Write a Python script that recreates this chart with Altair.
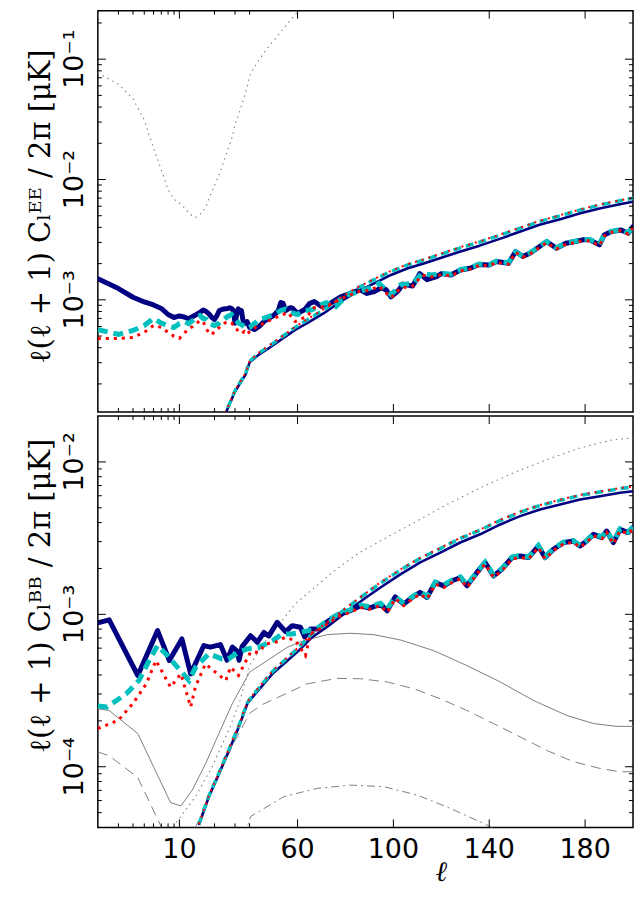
import math
import altair as alt
import pandas as pd

# ---------------- data (ell, value in muK) ----------------
# EE panel
ee_fg_dotted = [(2,0.077),(3,0.0618),(4,0.0469),(5,0.0313),(6,0.0182),(7,0.01205),(8,0.00822),(9,0.00687),
                (10,0.00636),(11,0.00583),(12,0.0053),(13,0.00495),(14,0.00486),(15,0.0051),(16,0.00551),
                (17,0.006),(18,0.00706),(19,0.00793),(20,0.0089),(22,0.01107),(24,0.01406),(26,0.01767),
                (28,0.0216),(30,0.0285),(32,0.0342),(34,0.0409),(36,0.0486),(38,0.0578),(40,0.0726),
                (42,0.0863),(44,0.0987),(46,0.1128),(48,0.1277),(50,0.142),(52,0.159),(54,0.178),(56,0.2),
                (58,0.222),(60,0.247),(62,0.27),(64,0.3)]

ee_navy_thick = [(2,1.50e-3),(3,1.24e-3),(4,1.05e-3),(5,9.6e-4),(6,9.06e-4),(7,8.47e-4),(8,7.55e-4),(9,7.13e-4),
                 (10,7.34e-4),(11,7.2e-4),(12,6.95e-4),(13,7.27e-4),(14,7.55e-4),(15,7.85e-4),(16,8.23e-4),
                 (17,8.0e-4),(18,7.6e-4),(19,7.13e-4),(20,6.87e-4),(21,7.41e-4),(22,8.15e-4),(24,8.4e-4),
                 (26,8.47e-4),(27,8.6e-4),(28,8.47e-4),(29,8.15e-4),(30,6.4e-4),(31,7.55e-4),(32,8.4e-4),
                 (33,8.0e-4),(34,8.15e-4),(35,6.86e-4),(36,6.35e-4),(38,6.6e-4),(40,5.89e-4),(42,5.66e-4),
                 (44,6.0e-4),(46,6.6e-4),(48,7.03e-4),(50,7.4e-4),(52,8.15e-4),(53,9.5e-4),(54,9.33e-4),
                 (55,8.15e-4),(57,8.6e-4),(58,8.47e-4),(60,7.7e-4),(61,7.9e-4),(63,8.3e-4),(65,9.3e-4),
                 (67,9.69e-4),(70,8.8e-4),(74,9.45e-4),(78,1.06e-3),(82,1.13e-3),(86,1.21e-3),(89,1.13e-3),
                 (92,1.17e-3),(95,1.26e-3),(97,1.21e-3),(99,1.06e-3),(102,1.19e-3),(104,1.35e-3),(108,1.3e-3),
                 (111,1.65e-3),(114,1.47e-3),(118,1.56e-3),(120,1.65e-3),(124,1.61e-3),(128,1.77e-3),
                 (132,1.83e-3),(136,1.97e-3),(140,1.95e-3),(143,2.08e-3),(148,2.01e-3),(151,2.52e-3),
                 (154,2.29e-3),(157,2.44e-3),(160,2.68e-3),(164,3.05e-3),(168,2.68e-3),(172,2.95e-3),
                 (176,3.05e-3),(179,3.15e-3),(182,3.15e-3),(186,2.86e-3),(188,3.46e-3),(191,3.69e-3),
                 (195,3.81e-3),(198,3.57e-3),(200,4.06e-3)]

ee_cyan_thick = [(2,5.66e-4),(3,5.15e-4),(4,5.56e-4),(5,6.12e-4),(6,7.0e-4),(7,6.4e-4),(8,6.12e-4),(9,5.89e-4),
                 (10,6.35e-4),(11,6.6e-4),(12,6.35e-4),(13,6.73e-4),(14,7.13e-4),(15,7.4e-4),(16,7.0e-4),
                 (17,6.87e-4),(18,6.35e-4),(19,6.22e-4),(20,6.12e-4),(22,6.4e-4),(24,6.87e-4),(26,7.27e-4),
                 (28,7.55e-4),(30,7.0e-4),(32,6.4e-4),(34,6.22e-4),(36,6.0e-4),(38,5.77e-4),(40,5.89e-4),
                 (42,6.35e-4),(44,6.87e-4),(47,7.13e-4),(50,7.55e-4),(53,8.15e-4),(55,8.4e-4),(57,7.85e-4),
                 (60,7.55e-4),(63,8.15e-4),(66,8.26e-4),(70,9.14e-4),(72,9.45e-4),(76,8.8e-4),(81,1.1e-3),
                 (86,1.17e-3),(90,1.25e-3),(94,1.37e-3),(99,1.1e-3),(103,1.33e-3),(108,1.37e-3),(112,1.66e-3),
                 (116,1.61e-3),(120,1.66e-3),(124,1.63e-3),(128,1.78e-3),(132,1.85e-3),(136,1.98e-3),
                 (140,1.96e-3),(143,2.1e-3),(148,2.03e-3),(151,2.5e-3),(154,2.3e-3),(157,2.46e-3),(160,2.7e-3),
                 (164,3.05e-3),(168,2.7e-3),(172,2.97e-3),(176,3.07e-3),(179,3.17e-3),(182,3.17e-3),
                 (186,2.9e-3),(188,3.48e-3),(191,3.7e-3),(195,3.83e-3),(198,3.6e-3),(200,4.08e-3)]

ee_red_thick = [(2,4.78e-4),(3,4.78e-4),(4,4.87e-4),(5,5.36e-4),(6,6.12e-4),(7,5.89e-4),(8,5.36e-4),(9,4.97e-4),
                (10,4.78e-4),(11,5.25e-4),(12,5.77e-4),(13,6.0e-4),(14,6.35e-4),(15,6.73e-4),(16,6.6e-4),
                (17,5.77e-4),(18,5.25e-4),(19,5.15e-4),(20,5.45e-4),(22,5.89e-4),(24,6.35e-4),(26,6.6e-4),
                (28,6.4e-4),(30,6.0e-4),(32,5.45e-4),(34,5.25e-4),(36,5.45e-4),(38,5.15e-4),(40,5.45e-4),
                (43,6.0e-4),(46,6.4e-4),(50,7.0e-4),(54,7.55e-4),(56,7.85e-4),(59,6.6e-4),(61,6.87e-4),
                (64,7.27e-4),(67,8.6e-4),(70,8.7e-4),(74,9.2e-4),(78,1.02e-3),(82,1.1e-3),(86,1.18e-3),
                (90,1.2e-3),(94,1.3e-3),(99,1.04e-3),(103,1.25e-3),(108,1.3e-3),(112,1.6e-3),(116,1.55e-3),
                (120,1.62e-3),(124,1.58e-3),(128,1.74e-3),(132,1.8e-3),(136,1.94e-3),(140,1.92e-3),
                (143,2.05e-3),(148,1.98e-3),(151,2.48e-3),(154,2.26e-3),(157,2.4e-3),(160,2.64e-3),
                (164,3.0e-3),(168,2.64e-3),(172,2.9e-3),(176,3.0e-3),(179,3.1e-3),(182,3.1e-3),(186,2.82e-3),
                (188,3.4e-3),(191,3.64e-3),(195,3.76e-3),(198,3.52e-3),(200,4.0e-3)]

ee_navy_thin = [(24,1.0e-4),(25,1.15e-4),(30,1.73e-4),(37,2.40e-4),(40,3.02e-4),(44,3.52e-4),(48,3.96e-4),
                (54,4.80e-4),(59,5.63e-4),(64,6.4e-4),(71,7.74e-4),(78,9.69e-4),(85,1.17e-3),(92,1.37e-3),
                (99,1.61e-3),(106,1.83e-3),(113,2.01e-3),(120,2.24e-3),(128,2.52e-3),(136,2.82e-3),
                (145,3.24e-3),(153,3.69e-3),(161,4.2e-3),(170,4.7e-3),(178,5.23e-3),(186,5.75e-3),
                (195,6.26e-3),(200,6.54e-3)]
ee_cyan_thin = [(24,1.0e-4),(25,1.16e-4),(30,1.76e-4),(37,2.46e-4),(40,3.08e-4),(44,3.62e-4),(48,4.1e-4),
                (54,5.0e-4),(59,5.9e-4),(64,6.8e-4),(71,8.25e-4),(78,1.03e-3),(85,1.25e-3),(92,1.47e-3),
                (99,1.72e-3),(106,1.95e-3),(113,2.15e-3),(120,2.4e-3),(128,2.7e-3),(136,3.02e-3),
                (145,3.47e-3),(153,3.94e-3),(161,4.48e-3),(170,5.02e-3),(178,5.58e-3),(186,6.13e-3),
                (195,6.68e-3),(200,6.98e-3)]
ee_red_thin = [(24,1.0e-4),(25,1.17e-4),(30,1.78e-4),(37,2.48e-4),(40,3.1e-4),(44,3.65e-4),(48,4.15e-4),
               (54,5.05e-4),(59,5.95e-4),(64,6.9e-4),(71,8.35e-4),(78,1.04e-3),(85,1.27e-3),(92,1.49e-3),
               (99,1.74e-3),(106,1.98e-3),(113,2.18e-3),(120,2.43e-3),(128,2.74e-3),(136,3.06e-3),
               (145,3.51e-3),(153,3.99e-3),(161,4.53e-3),(170,5.08e-3),(178,5.64e-3),(186,6.2e-3),
               (195,6.75e-3),(200,7.05e-3)]

# BB panel
bb_fg_dotted = [(5,1.5e-5),(7,2.6e-5),(9.3,4.26e-5),(13.8,6.4e-5),(19.1,1.0e-4),(26.6,1.75e-4),(33,2.7e-4),
                (40,4.6e-4),(45,6.2e-4),(50.8,8.0e-4),(59,1.17e-3),(66,1.45e-3),(73,1.8e-3),(79.3,2.15e-3),
                (86,2.55e-3),(94.6,3.03e-3),(108.5,3.99e-3),(122.4,5.26e-3),(136.2,6.76e-3),(150.1,8.47e-3),
                (164,1.035e-2),(177.9,1.235e-2),(191.8,1.4e-2),(200,1.436e-2)]
bb_fg_solid = [(2,2.4e-4),(2.5,2.34e-4),(4.4,1.65e-4),(8.4,5.82e-5),(10.3,5.53e-5),(12.9,7.03e-5),
               (16.8,1.05e-4),(21.8,1.65e-4),(28.4,2.59e-4),(40,4.18e-4),(47.4,4.98e-4),(55.7,6.08e-4),
               (62.6,6.71e-4),(72.4,7.36e-4),(82,7.51e-4),(91.8,7.36e-4),(102.9,6.79e-4),(116.8,5.78e-4),
               (130.7,4.61e-4),(144.6,3.6e-4),(158.5,2.72e-4),(172.4,2.17e-4),(183.5,1.92e-4),
               (193.2,1.84e-4),(200,1.84e-4)]
bb_fg_dashed = [(2,1.25e-4),(2.5,1.18e-4),(4.4,8.5e-5),(8.4,3.0e-5),(10.3,2.85e-5),(12.9,3.65e-5),
                (16.8,5.5e-5),(21.8,8.7e-5),(28.4,1.37e-4),(40,2.24e-4),(45.9,2.59e-4),(52.2,2.87e-4),
                (64,3.5e-4),(76.5,3.8e-4),(86.2,3.78e-4),(97.4,3.6e-4),(108.5,3.25e-4),(119.6,2.79e-4),
                (130.7,2.34e-4),(141.8,1.92e-4),(152.9,1.57e-4),(164,1.28e-4),(175.1,1.08e-4),
                (186.2,9.75e-5),(194.6,9.27e-5),(200,9.27e-5)]
bb_fg_dashdot = [(36,3.5e-5),(40.4,4.71e-5),(54.3,6.37e-5),(68.2,7.21e-5),(82,7.58e-5),(96,7.4e-5),
                 (109.9,6.52e-5),(123.8,5.33e-5),(139,4.15e-5),(145,3.7e-5)]

bb_navy_thick = [(2,8.8e-4),(2.5,9.2e-4),(4.4,3.97e-4),(6.5,7.82e-4),(8.2,4.98e-4),(10.5,6.9e-4),(12.5,4.07e-4),
                 (16.2,6.24e-4),(18.4,6.09e-4),(22.5,6.33e-4),(25.6,5.0e-4),(28.5,6.1e-4),(31.3,5.73e-4),
                 (32.5,5.0e-4),(34.5,6.14e-4),(40.4,7.24e-4),(43.2,6.56e-4),(46,7.6e-4),(48,7.2e-4),
                 (51.5,8.87e-4),(55,7.7e-4),(57.8,8.42e-4),(61.2,8.22e-4),(63,7.1e-4),(65.4,8.0e-4),
                 (68.2,8.02e-4),(73,9.08e-4),(77.9,1.005e-3),(82,1.056e-3),(86.2,1.138e-3),(90,1.1e-3),
                 (94.6,1.167e-3),(97.4,1.056e-3),(100.8,1.303e-3),(104.3,1.167e-3),(107.8,1.291e-3),
                 (111.2,1.393e-3),(114,1.291e-3),(117.5,1.618e-3),(121,1.538e-3),(124.5,1.66e-3),
                 (128,1.746e-3),(130.7,1.538e-3),(134.9,1.884e-3),(138.3,2.19e-3),(141.8,1.787e-3),
                 (145.3,1.977e-3),(149.5,2.36e-3),(152.9,2.416e-3),(156.4,2.36e-3),(160.5,2.806e-3),
                 (163.3,2.36e-3),(166.8,2.673e-3),(171,2.955e-3),(175.1,3.03e-3),(177.9,2.806e-3),
                 (180.7,3.03e-3),(183.5,3.35e-3),(187,3.19e-3),(189,3.52e-3),(191.8,2.955e-3),
                 (194.6,3.61e-3),(198,3.44e-3),(200,3.71e-3)]
bb_cyan_thick = [(2,2.5e-4),(2.4,2.47e-4),(3.5,3.01e-4),(4.5,3.68e-4),(5.5,4.98e-4),(6.5,6.24e-4),(7.9,5.36e-4),
                 (9.6,4.51e-4),(12.1,3.68e-4),(13.8,4.51e-4),(17.9,5.51e-4),(23.1,5.1e-4),(26.3,5.1e-4),
                 (32.2,5.65e-4),(38.4,5.93e-4),(43.9,6.08e-4),(49.5,6.71e-4),(53.6,7.43e-4),(57.8,7.43e-4),
                 (64.7,7.82e-4),(68.2,8.1e-4),(73,9.2e-4),(77.9,1.02e-3),(82,1.07e-3),(86.2,1.15e-3),
                 (90,1.12e-3),(94.6,1.18e-3),(97.4,1.08e-3),(100.8,1.31e-3),(104.3,1.18e-3),(107.8,1.3e-3),
                 (111.2,1.41e-3),(114,1.31e-3),(117.5,1.63e-3),(121,1.56e-3),(124.5,1.68e-3),(128,1.76e-3),
                 (130.7,1.56e-3),(134.9,1.9e-3),(138.3,2.2e-3),(141.8,1.81e-3),(145.3,2.0e-3),(149.5,2.38e-3),
                 (152.9,2.43e-3),(156.4,2.38e-3),(160.5,2.83e-3),(163.3,2.39e-3),(166.8,2.7e-3),(171,2.98e-3),
                 (175.1,3.05e-3),(177.9,2.83e-3),(180.7,3.05e-3),(183.5,3.38e-3),(187,3.22e-3),(189,3.55e-3),
                 (191.8,2.98e-3),(194.6,3.64e-3),(198,3.47e-3),(200,3.74e-3)]
bb_red_thick = [(2,1.78e-4),(3,2.02e-4),(4,2.6e-4),(5.2,3.5e-4),(6.3,4.98e-4),(8.4,3.33e-4),(10.3,4.07e-4),
                (12.5,2.47e-4),(13.7,3.33e-4),(16.7,4.73e-4),(21.2,4.07e-4),(25,3.68e-4),(27.5,4.51e-4),
                (32.1,3.97e-4),(40.4,5.65e-4),(43.9,5.65e-4),(46.7,6.4e-4),(50.8,6.56e-4),(55,7.08e-4),
                (59.2,6.71e-4),(63.3,5.36e-4),(65.4,7.5e-4),(68.2,7.8e-4),(73,8.8e-4),(77.9,9.8e-4),
                (82,1.03e-3),(86.2,1.11e-3),(90,1.08e-3),(94.6,1.14e-3),(97.4,1.03e-3),(100.8,1.27e-3),
                (104.3,1.14e-3),(107.8,1.26e-3),(111.2,1.36e-3),(114,1.26e-3),(117.5,1.58e-3),(121,1.5e-3),
                (124.5,1.62e-3),(128,1.71e-3),(130.7,1.5e-3),(134.9,1.84e-3),(138.3,2.14e-3),(141.8,1.75e-3),
                (145.3,1.93e-3),(149.5,2.31e-3),(152.9,2.36e-3),(156.4,2.31e-3),(160.5,2.75e-3),
                (163.3,2.31e-3),(166.8,2.62e-3),(171,2.9e-3),(175.1,2.97e-3),(177.9,2.75e-3),(180.7,2.97e-3),
                (183.5,3.28e-3),(187,3.13e-3),(189,3.45e-3),(191.8,2.9e-3),(194.6,3.54e-3),(198,3.37e-3),
                (200,3.64e-3)]
bb_navy_thin = [(14.7,4.15e-5),(17.9,6.37e-5),(21.9,9.03e-5),(26.6,1.28e-4),(32.3,1.82e-4),(38.2,2.59e-4),
                (41.8,2.94e-4),(45.3,3.41e-4),(49.5,4.07e-4),(55,4.85e-4),(60.5,5.78e-4),(66.1,7.08e-4),
                (73,8.42e-4),(79.3,1.005e-3),(88,1.27e-3),(94.6,1.5e-3),(102.9,1.83e-3),(111.2,2.19e-3),
                (119.6,2.54e-3),(127.9,2.96e-3),(136.2,3.35e-3),(144.6,3.89e-3),(152.9,4.41e-3),
                (161.2,4.88e-3),(169.6,5.26e-3),(177.9,5.67e-3),(186.2,5.96e-3),(194.6,6.27e-3),(200,6.42e-3)]
bb_cyan_thin = [(14.7,4.2e-5),(17.9,6.45e-5),(21.9,9.15e-5),(26.6,1.3e-4),(32.3,1.85e-4),(38.2,2.63e-4),
                (41.8,3.0e-4),(45.3,3.5e-4),(49.5,4.2e-4),(55,5.05e-4),(60.5,6.05e-4),(66.1,7.45e-4),
                (73,8.9e-4),(79.3,1.065e-3),(88,1.35e-3),(94.6,1.6e-3),(102.9,1.95e-3),(111.2,2.33e-3),
                (119.6,2.7e-3),(127.9,3.15e-3),(136.2,3.57e-3),(144.6,4.13e-3),(152.9,4.68e-3),
                (161.2,5.18e-3),(169.6,5.6e-3),(177.9,6.03e-3),(186.2,6.35e-3),(194.6,6.68e-3),(200,6.85e-3)]
bb_red_thin = [(14.7,4.2e-5),(17.9,6.5e-5),(21.9,9.2e-5),(26.6,1.31e-4),(32.3,1.87e-4),(38.2,2.66e-4),
               (41.8,3.03e-4),(45.3,3.54e-4),(49.5,4.25e-4),(55,5.1e-4),(60.5,6.1e-4),(66.1,7.5e-4),
               (73,9.0e-4),(79.3,1.075e-3),(88,1.36e-3),(94.6,1.62e-3),(102.9,1.97e-3),(111.2,2.35e-3),
               (119.6,2.73e-3),(127.9,3.18e-3),(136.2,3.6e-3),(144.6,4.17e-3),(152.9,4.72e-3),
               (161.2,5.22e-3),(169.6,5.65e-3),(177.9,6.08e-3),(186.2,6.4e-3),(194.6,6.74e-3),(200,6.9e-3)]

# axis tick values and labels
x_major = [10, 60, 100, 140, 180]
x_major_labels = ["10", "60", "100", "140", "180"]
x_minor = [3, 4, 5, 6, 7, 8, 9, 20, 30, 40]
ee_domain = [1.167e-4, 0.2529]
bb_domain = [4e-5, 2e-2]
ee_major = [1e-3, 1e-2, 1e-1]
ee_major_labels = ["10\u207b\u00b3", "10\u207b\u00b2", "10\u207b\u00b9"]
bb_major = [1e-4, 1e-3, 1e-2]
bb_major_labels = ["10\u207b\u2074", "10\u207b\u00b3", "10\u207b\u00b2"]
ee_title = "\u2113(\u2113 + 1) C\u2097\u1d31\u1d31 / 2\u03c0     [\u03bcK]"
bb_title = "\u2113(\u2113 + 1) C\u2097\u1d2e\u1d2e / 2\u03c0     [\u03bcK]"
x_title = "\u2113"

# ---------------- layout / hybrid ell axis ----------------
PLOT_W = 536
TOP_H = 402
BOT_H = 412
LOG_SPAN = 152   # width of the logarithmic section (ell 2..40)
LIN_RATE = 2.4   # width per multipole in the linear section (ell 40..200)
U_EXPR = (f"datum.ell <= 40 ? {LOG_SPAN} * log(datum.ell / 2) / log(20) "
          f": {LOG_SPAN} + {LIN_RATE} * (datum.ell - 40)")


def minors(dom):
    out = []
    for e in range(-6, 1):
        for k in range(2, 10):
            v = k * 10 ** e
            if dom[0] < v < dom[1]:
                out.append(v)
    return out


xscale = alt.Scale(domain=[0, PLOT_W], nice=False, zero=False)
ee_scale = alt.Scale(type="log", domain=ee_domain, nice=False)
bb_scale = alt.Scale(type="log", domain=bb_domain, nice=False)

NAVY, CYAN, RED, GRAY = "#000080", "#00BFBF", "#FF0000", "#808080"
STYLES = {
    "navy_thick": dict(color=NAVY, strokeWidth=5, strokeJoin="round", strokeCap="round"),
    "navy_thin": dict(color=NAVY, strokeWidth=2.6, strokeJoin="round"),
    "cyan_thick": dict(color=CYAN, strokeWidth=5, strokeDash=[10, 6]),
    "cyan_thin": dict(color=CYAN, strokeWidth=3.5, strokeDash=[8, 5]),
    "red_thick": dict(color=RED, strokeWidth=3, strokeDash=[3, 5]),
    "red_thin": dict(color=RED, strokeWidth=2, strokeDash=[2, 5]),
    "dotted": dict(color=GRAY, strokeWidth=1.1, strokeDash=[1.5, 4]),
    "solid": dict(color=GRAY, strokeWidth=1),
    "dashed": dict(color=GRAY, strokeWidth=1, strokeDash=[10, 6]),
    "dashdot": dict(color=GRAY, strokeWidth=1, strokeDash=[8, 4, 2, 4]),
}
LABEL_FONT = dict(font="DejaVu Sans", fontSize=27, color="black")
TITLE_FONT = dict(font="DejaVu Serif", fontSize=29, color="black")


def curve(pairs, yscale, style):
    df = pd.DataFrame(pairs, columns=["ell", "v"])
    return (alt.Chart(df).transform_calculate(u=U_EXPR)
            .mark_line(clip=True, **STYLES[style])
            .encode(x=alt.X("u:Q", scale=xscale, axis=None),
                    y=alt.Y("v:Q", scale=yscale, axis=None)))


def yticks(vals, yscale, length):
    df = pd.DataFrame({"v": vals})
    base = alt.Chart(df).mark_rule(color="black", strokeWidth=1)
    left = base.encode(y=alt.Y("v:Q", scale=yscale, axis=None), x=alt.value(0), x2=alt.value(length))
    right = base.encode(y=alt.Y("v:Q", scale=yscale, axis=None), x=alt.value(PLOT_W),
                        x2=alt.value(PLOT_W - length))
    return [left, right]


def xticks(ells, height, length):
    df = pd.DataFrame({"ell": ells})
    base = alt.Chart(df).transform_calculate(u=U_EXPR).mark_rule(color="black", strokeWidth=1)
    bottom = base.encode(x=alt.X("u:Q", scale=xscale, axis=None), y=alt.value(height),
                         y2=alt.value(height - length))
    top = base.encode(x=alt.X("u:Q", scale=xscale, axis=None), y=alt.value(0), y2=alt.value(length))
    return [bottom, top]


def ytick_labels(vals, labels, yscale):
    df = pd.DataFrame({"v": vals, "label": labels})
    return (alt.Chart(df)
            .mark_text(angle=270, align="center", baseline="alphabetic", **LABEL_FONT)
            .encode(y=alt.Y("v:Q", scale=yscale, axis=None), x=alt.value(-15), text="label:N"))


def xtick_labels(ells, labels, height):
    df = pd.DataFrame({"ell": ells, "label": labels})
    return (alt.Chart(df).transform_calculate(u=U_EXPR)
            .mark_text(align="center", baseline="middle", **LABEL_FONT)
            .encode(x=alt.X("u:Q", scale=xscale, axis=None), y=alt.value(height + 23), text="label:N"))


def title_text(text, x, y, angle=0, **kw):
    df = pd.DataFrame({"t": [text]})
    style = dict(TITLE_FONT)
    style.update(kw)
    return (alt.Chart(df).mark_text(angle=angle, align="center", baseline="middle", **style)
            .encode(x=alt.value(x), y=alt.value(y), text="t:N"))


top_layers = [
    curve(ee_fg_dotted, ee_scale, "dotted"),
    curve(ee_navy_thick, ee_scale, "navy_thick"),
    curve(ee_navy_thin, ee_scale, "navy_thin"),
    curve(ee_cyan_thick, ee_scale, "cyan_thick"),
    curve(ee_cyan_thin, ee_scale, "cyan_thin"),
    curve(ee_red_thick, ee_scale, "red_thick"),
    curve(ee_red_thin, ee_scale, "red_thin"),
]
top_layers += yticks(ee_major, ee_scale, 8)
top_layers += yticks(minors(ee_domain), ee_scale, 4)
top_layers += xticks(x_major, TOP_H, 8)
top_layers += xticks(x_minor, TOP_H, 4)
top_layers += [ytick_labels(ee_major, ee_major_labels, ee_scale),
               title_text(ee_title, -57, 196, angle=270)]

bot_layers = [
    curve(bb_fg_dashdot, bb_scale, "dashdot"),
    curve(bb_fg_dashed, bb_scale, "dashed"),
    curve(bb_fg_solid, bb_scale, "solid"),
    curve(bb_fg_dotted, bb_scale, "dotted"),
    curve(bb_navy_thick, bb_scale, "navy_thick"),
    curve(bb_navy_thin, bb_scale, "navy_thin"),
    curve(bb_cyan_thick, bb_scale, "cyan_thick"),
    curve(bb_cyan_thin, bb_scale, "cyan_thin"),
    curve(bb_red_thick, bb_scale, "red_thick"),
    curve(bb_red_thin, bb_scale, "red_thin"),
]
bot_layers += yticks(bb_major, bb_scale, 8)
bot_layers += yticks(minors(bb_domain), bb_scale, 4)
bot_layers += xticks(x_major, BOT_H, 8)
bot_layers += xticks(x_minor, BOT_H, 4)
bot_layers += [ytick_labels(bb_major, bb_major_labels, bb_scale),
               xtick_labels(x_major, x_major_labels, BOT_H),
               title_text(bb_title, -57, 180, angle=270),
               title_text(x_title, 344, BOT_H + 46, fontSize=28, fontStyle="italic")]

top = alt.layer(*top_layers).properties(width=PLOT_W, height=TOP_H)
bottom = alt.layer(*bot_layers).properties(width=PLOT_W, height=BOT_H)

chart = (alt.vconcat(top, bottom, spacing=0)
         .properties(padding={"left": 18, "top": 0, "right": 0, "bottom": 2})
         .configure_view(stroke="black", strokeWidth=1.5))

chart.save("out.html", embed_options={"renderer": "svg", "actions": False})
